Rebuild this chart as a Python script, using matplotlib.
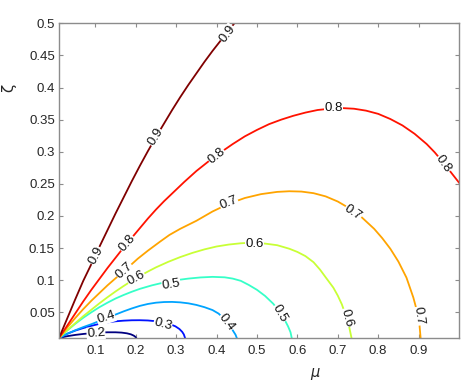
import matplotlib

matplotlib.use("Agg")
import matplotlib.pyplot as plt

# contour levels
levels = [0.2, 0.3, 0.4, 0.5, 0.6, 0.7, 0.8, 0.9]
# MATLAB jet colours for the 8 levels
level_colors = ["#000080", "#0012ff", "#00a4ff", "#36ffc8",
                "#c8ff36", "#ffa400", "#ff1200", "#800000"]

# traced contour lines (mu, zeta)
mu_02 = [0.01, 0.03, 0.05, 0.07, 0.09, 0.11, 0.13, 0.15, 0.165, 0.178, 0.188,
         0.195, 0.199, 0.201]
zeta_02 = [0.01, 0.0128, 0.0148, 0.0163, 0.0175, 0.0184, 0.0189, 0.0189, 0.0184,
           0.0173, 0.0157, 0.0137, 0.0118, 0.01]

mu_03 = [0.01, 0.03, 0.05, 0.07, 0.09, 0.11, 0.13, 0.15, 0.17, 0.19, 0.21, 0.23,
         0.25, 0.27, 0.285, 0.298, 0.308, 0.315, 0.319, 0.322]
zeta_03 = [0.01, 0.0165, 0.0215, 0.0255, 0.029, 0.032, 0.0343, 0.036, 0.037,
           0.0376, 0.0377, 0.0373, 0.0361, 0.034, 0.0315, 0.0282, 0.024, 0.0195,
           0.0155, 0.01]

mu_04 = [0.01, 0.03, 0.05, 0.07, 0.09, 0.11, 0.13, 0.15, 0.17, 0.19, 0.21, 0.23,
         0.25, 0.27, 0.29, 0.31, 0.33, 0.35, 0.37, 0.39, 0.405, 0.418, 0.43, 0.44,
         0.447, 0.45]
zeta_04 = [0.01, 0.0165, 0.022, 0.027, 0.0315, 0.0365, 0.0415, 0.0465, 0.0515,
           0.056, 0.06, 0.063, 0.065, 0.066, 0.0662, 0.0655, 0.064, 0.0615, 0.058,
           0.0535, 0.048, 0.04, 0.031, 0.022, 0.015, 0.01]

mu_05 = [0.01, 0.03, 0.05, 0.07, 0.09, 0.11, 0.13, 0.15, 0.17, 0.19, 0.21, 0.24,
         0.27, 0.30, 0.33, 0.36, 0.39, 0.42, 0.44, 0.46, 0.48, 0.50, 0.52, 0.54,
         0.556, 0.568, 0.577, 0.583, 0.586]
zeta_05 = [0.01, 0.0215, 0.032, 0.0415, 0.05, 0.058, 0.065, 0.0715, 0.077, 0.082,
           0.0865, 0.092, 0.0965, 0.1, 0.1025, 0.1043, 0.1052, 0.1045, 0.1025,
           0.099, 0.0925, 0.085, 0.0755, 0.0635, 0.051, 0.039, 0.028, 0.019, 0.01]

mu_06 = [0.01, 0.03, 0.05, 0.07, 0.09, 0.11, 0.13, 0.15, 0.17, 0.19, 0.21, 0.23,
         0.25, 0.28, 0.31, 0.34, 0.37, 0.40, 0.43, 0.46, 0.49, 0.52, 0.55, 0.58,
         0.60, 0.62, 0.64, 0.656, 0.67, 0.689, 0.70, 0.71, 0.7218, 0.728, 0.734]
zeta_06 = [0.01, 0.022, 0.033, 0.044, 0.054, 0.064, 0.0735, 0.0825, 0.091, 0.099,
           0.1065, 0.1135, 0.12, 0.1285, 0.136, 0.1425, 0.148, 0.1525, 0.1555,
           0.1575, 0.1585, 0.157, 0.1545, 0.149, 0.144, 0.1375, 0.128, 0.1165,
           0.1045, 0.0884, 0.076, 0.0625, 0.0416, 0.028, 0.01]

mu_07 = [0.01, 0.03, 0.05, 0.07, 0.09, 0.11, 0.13, 0.15, 0.172, 0.19, 0.205, 0.23,
         0.26, 0.2834, 0.31, 0.35, 0.39, 0.43, 0.47, 0.51, 0.55, 0.58, 0.61, 0.64,
         0.67, 0.70, 0.73, 0.76, 0.79, 0.81, 0.83, 0.85, 0.87, 0.887, 0.896,
         0.902, 0.905]
zeta_07 = [0.01, 0.026, 0.041, 0.055, 0.068, 0.08, 0.092, 0.103, 0.1145, 0.125,
           0.1335, 0.146, 0.16, 0.1705, 0.18, 0.1925, 0.207, 0.219, 0.228, 0.234,
           0.2375, 0.2385, 0.238, 0.2355, 0.2305, 0.2225, 0.2115, 0.1975, 0.18,
           0.1655, 0.149, 0.129, 0.104, 0.073, 0.052, 0.032, 0.01]

mu_08 = [0.01, 0.03, 0.05, 0.07, 0.09, 0.11, 0.13, 0.15, 0.17, 0.19, 0.21, 0.23,
         0.25, 0.27, 0.29, 0.32, 0.35, 0.38, 0.41, 0.44, 0.47, 0.50, 0.53, 0.56,
         0.59, 0.62, 0.65, 0.68, 0.71, 0.74, 0.77, 0.80, 0.83, 0.86, 0.89, 0.92,
         0.94, 0.96, 0.98, 1.0]
zeta_08 = [0.01, 0.029, 0.048, 0.067, 0.085, 0.102, 0.119, 0.135, 0.151, 0.166,
           0.181, 0.196, 0.21, 0.223, 0.235, 0.253, 0.27, 0.285, 0.299, 0.312,
           0.324, 0.334, 0.343, 0.35, 0.356, 0.361, 0.365, 0.367, 0.368, 0.367,
           0.364, 0.359, 0.351, 0.341, 0.328, 0.312, 0.299, 0.284, 0.268, 0.252]

mu_09 = [0.01, 0.03, 0.05, 0.07, 0.09, 0.11, 0.13, 0.15, 0.17, 0.19, 0.21, 0.23,
         0.25, 0.27, 0.29, 0.31, 0.33, 0.35, 0.37, 0.39, 0.41, 0.43, 0.444]
zeta_09 = [0.01, 0.04, 0.07, 0.099, 0.125, 0.152, 0.178, 0.204, 0.229, 0.254,
           0.278, 0.301, 0.323, 0.344, 0.365, 0.385, 0.404, 0.422, 0.44, 0.457,
           0.473, 0.489, 0.5]

# inline contour labels: level, mu, zeta, rotation (deg)
label_level = [0.9, 0.9, 0.9, 0.8, 0.8, 0.8, 0.8, 0.7, 0.7, 0.7, 0.7,
               0.6, 0.6, 0.6, 0.5, 0.5, 0.4, 0.4, 0.3, 0.2]
label_mu = [0.1015, 0.2488, 0.4265, 0.179, 0.3993, 0.689, 0.962, 0.172, 0.430,
            0.738, 0.8997, 0.2007, 0.4943, 0.7218, 0.2876, 0.556, 0.1263,
            0.424, 0.2668, 0.1015]
label_zeta = [0.138, 0.3228, 0.484, 0.157, 0.2942, 0.368, 0.281, 0.1145, 0.221,
              0.2056, 0.044, 0.1036, 0.157, 0.0416, 0.0937, 0.048, 0.0416,
              0.034, 0.031, 0.0172]
label_rot = [62, 58, 53, 49, 39, 0, -55, 42, 22, -34, -82, 28, 0, -75, 9, -60,
             18, -52, -15, 4]

lines = [(mu_02, zeta_02), (mu_03, zeta_03), (mu_04, zeta_04), (mu_05, zeta_05),
         (mu_06, zeta_06), (mu_07, zeta_07), (mu_08, zeta_08), (mu_09, zeta_09)]

xticks = [0.1, 0.2, 0.3, 0.4, 0.5, 0.6, 0.7, 0.8, 0.9]
yticks = [0.05, 0.1, 0.15, 0.2, 0.25, 0.3, 0.35, 0.4, 0.45, 0.5]

plt.rcParams["font.family"] = ["Liberation Sans", "DejaVu Sans"]

fig = plt.figure(figsize=(4.71, 3.87), dpi=100)
ax = fig.add_axes([0.1253, 0.1266, 0.8492, 0.8132])

color_of = dict(zip(levels, level_colors))

for lv, (mx, zy) in zip(levels, lines):
    ax.plot(mx, zy, color=color_of[lv], linewidth=1.3, solid_joinstyle="round")

for lv, mx, zy, rot in zip(label_level, label_mu, label_zeta, label_rot):
    ax.text(mx, zy, f"{lv:g}", rotation=rot, rotation_mode="anchor",
            ha="center", va="center", fontsize=9.5, color="#111111", zorder=5,
            bbox=dict(facecolor="white", edgecolor="none", pad=0.2))

ax.set_xlim(0.01, 1.0)
ax.set_ylim(0.01, 0.5)
ax.set_xticks(xticks)
ax.set_xticklabels([f"{t:g}" for t in xticks])
ax.set_yticks(yticks)
ax.set_yticklabels([f"{t:g}" for t in yticks])
ax.tick_params(direction="in", length=3, width=0.8, top=True, right=True,
               labelsize=9.5, colors="#8c8c8c", labelcolor="#262626")
ax.tick_params(axis="x", pad=5)
ax.tick_params(axis="y", pad=3)
for sp in ax.spines.values():
    sp.set_color("#8c8c8c")
    sp.set_linewidth(1.0)

fig.text(8.5 / 471, 1 - 88 / 387, "ζ", rotation=90, ha="center", va="center",
         fontsize=11, color="#262626", family=["DejaVu Sans"])
fig.text(315 / 471, 1 - 373 / 387, "μ", ha="center", va="center",
         fontsize=10.5, color="#262626", style="italic", family=["DejaVu Sans"])

fig.savefig("out.png", dpi=100)
plt.close(fig)
